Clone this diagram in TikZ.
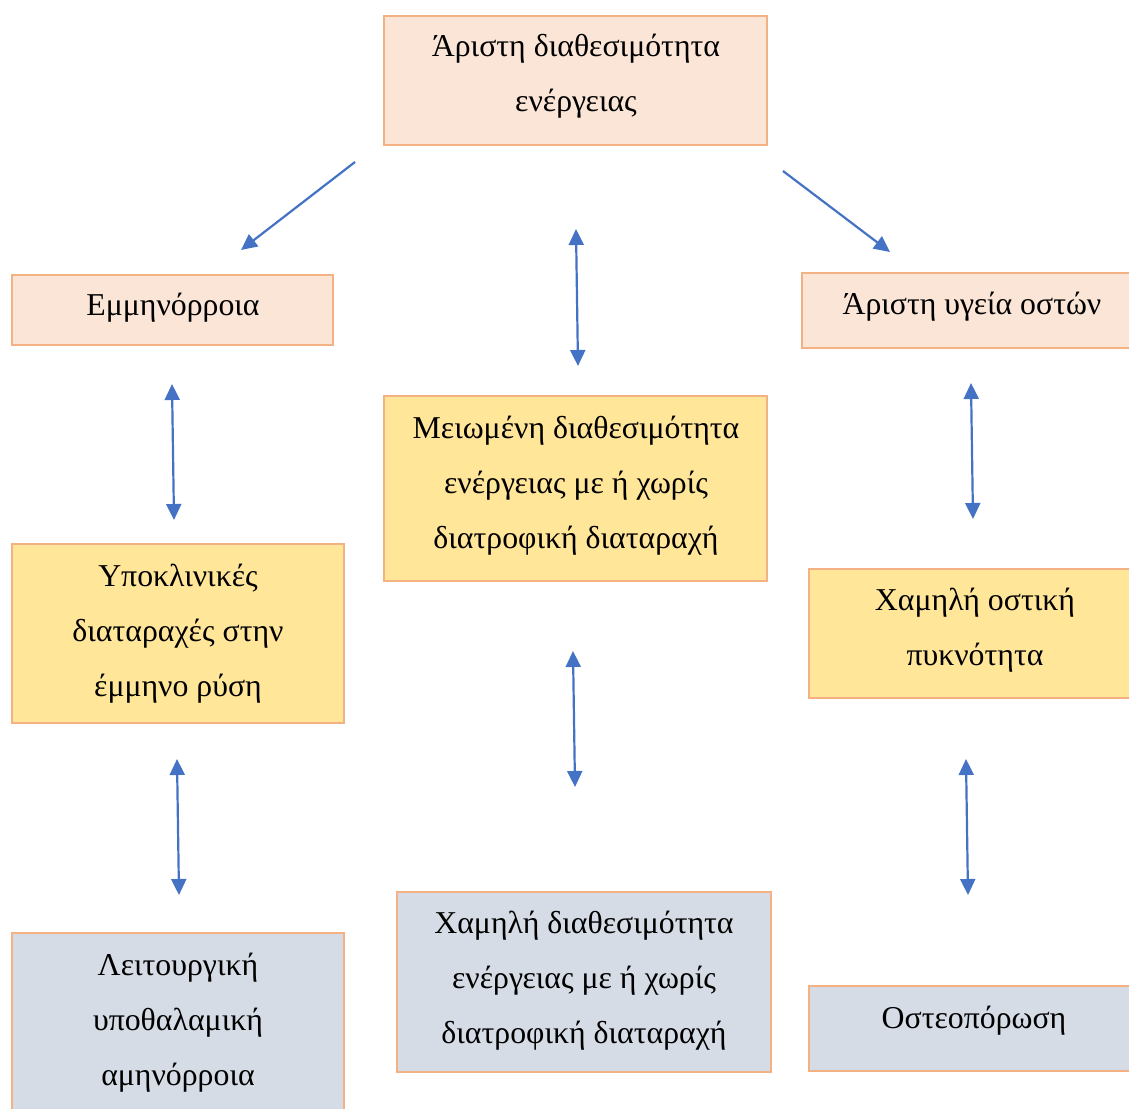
\documentclass[tikz,border=0pt]{standalone}
\usepackage{fontspec}
\setmainfont{Liberation Serif}
\usetikzlibrary{arrows.meta}
\definecolor{peachfill}{HTML}{FBE5D6}
\definecolor{yellowfill}{HTML}{FFE699}
\definecolor{greyfill}{HTML}{D6DCE5}
\definecolor{boxline}{HTML}{F4B183}
\definecolor{arrowblue}{HTML}{4472C4}
\begin{document}
\begin{tikzpicture}[x=1bp,y=-1bp,
  boxbase/.style={draw=boxline,line width=2.8bp,rectangle,anchor=north west,inner sep=0pt,outer sep=0pt},
  peach/.style={boxbase,fill=peachfill},
  yellowbox/.style={boxbase,fill=yellowfill},
  greybox/.style={boxbase,fill=greyfill},
  txt/.style={align=center,inner sep=0pt,font=\fontsize{31.8bp}{55bp}\selectfont},
  conn/.style={draw=arrowblue,line width=2.2bp},
  oneway/.style={conn,-{Triangle[length=16bp,width=15bp]}},
  twoway/.style={conn,{Triangle[length=16bp,width=15bp]}-{Triangle[length=16bp,width=15bp]}}
]
\useasboundingbox (0,0) rectangle (1129,1109);
% boxes
\node[peach,minimum width=383bp,minimum height=129bp] (top) at (384,16) {};
\node[peach,minimum width=321bp,minimum height=70bp] (emm) at (12,275) {};
\node[peach,minimum width=340bp,minimum height=75bp] (bone) at (802,273) {};
\node[yellowbox,minimum width=383bp,minimum height=185bp] (mid) at (384,396) {};
\node[yellowbox,minimum width=332bp,minimum height=179bp] (sub) at (12,544) {};
\node[yellowbox,minimum width=335bp,minimum height=129bp] (bmd) at (809,569) {};
\node[greybox,minimum width=332bp,minimum height=190bp] (fha) at (12,933) {};
\node[greybox,minimum width=374bp,minimum height=180bp] (low) at (397,892) {};
\node[greybox,minimum width=335bp,minimum height=85bp] (ost) at (809,986) {};
% texts
\node[txt] (ttop) at (576,76) {Άριστη διαθεσιμότητα\\ενέργειας};
\node[txt] (temm) at (173,308) {Εμμηνόρροια};
\node[txt] (tbone) at (972,307) {Άριστη υγεία οστών};
\node[txt] (tmid) at (576,486) {Μειωμένη διαθεσιμότητα\\ενέργειας με ή χωρίς\\διατροφική διαταραχή};
\node[txt] (tsub) at (178,634) {Υποκλινικές\\διαταραχές στην\\έμμηνο ρύση};
\node[txt] (tbmd) at (975,630) {Χαμηλή οστική\\πυκνότητα};
\node[txt] (tfha) at (178,1023) {Λειτουργική\\υποθαλαμική\\αμηνόρροια};
\node[txt] (tlow) at (584,981) {Χαμηλή διαθεσιμότητα\\ενέργειας με ή χωρίς\\διατροφική διαταραχή};
\node[txt] (tost) at (974,1021) {Οστεοπόρωση};
% arrow end points
\coordinate (a1s) at (355,162); \coordinate (a1e) at (241,250);
\coordinate (a2s) at (783,171); \coordinate (a2e) at (890,252);
\coordinate (a3s) at (576,229); \coordinate (a3e) at (578,366);
\coordinate (a4s) at (172,384); \coordinate (a4e) at (174,520);
\coordinate (a5s) at (971,383); \coordinate (a5e) at (973,519);
\coordinate (a6s) at (573,651); \coordinate (a6e) at (575,787);
\coordinate (a7s) at (177,759); \coordinate (a7e) at (179,895);
\coordinate (a8s) at (966,759); \coordinate (a8e) at (968,895);
\draw[oneway] (a1s) -- (a1e);
\draw[oneway] (a2s) -- (a2e);
\draw[twoway] (a3s) -- (a3e);
\draw[twoway] (a4s) -- (a4e);
\draw[twoway] (a5s) -- (a5e);
\draw[twoway] (a6s) -- (a6e);
\draw[twoway] (a7s) -- (a7e);
\draw[twoway] (a8s) -- (a8e);
\end{tikzpicture}
\end{document}
